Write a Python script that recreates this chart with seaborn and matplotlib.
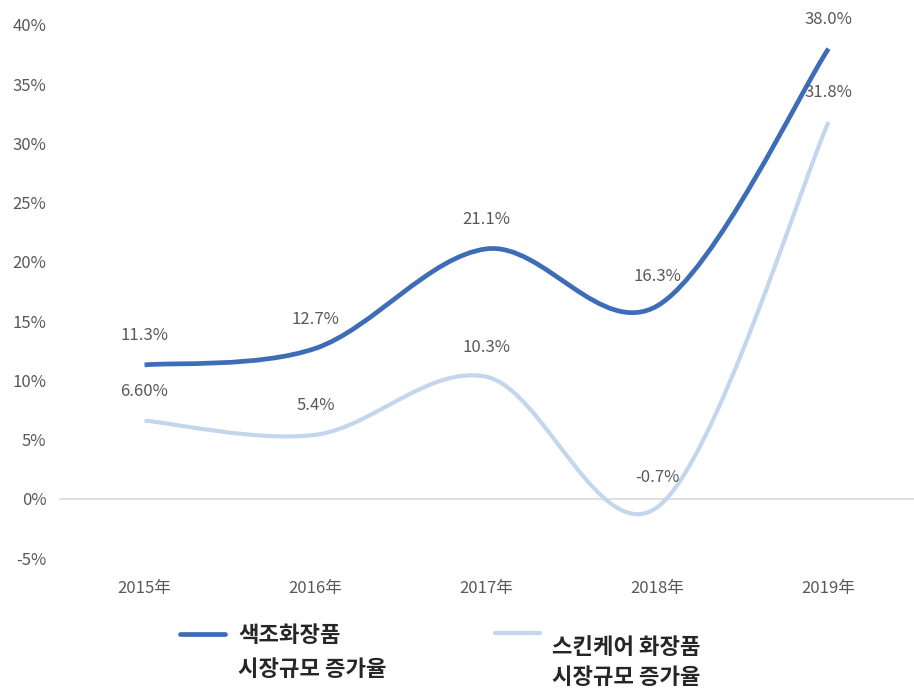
import numpy as np
import pandas as pd
import matplotlib
matplotlib.use("Agg")
import matplotlib.pyplot as plt
import seaborn as sns
from matplotlib.path import Path
from matplotlib.patches import PathPatch
from matplotlib.lines import Line2D

years = ["2015年", "2016年", "2017年", "2018年", "2019年"]
color_growth = [11.3, 12.7, 21.1, 16.3, 38.0]
skin_growth = [6.6, 5.4, 10.3, -0.7, 31.8]
color_labels = ["11.3%", "12.7%", "21.1%", "16.3%", "38.0%"]
skin_labels = ["6.60%", "5.4%", "10.3%", "-0.7%", "31.8%"]
series_names = [["색조화장품", "시장규모 증가율"], ["스킨케어 화장품", "시장규모 증가율"]]

sns.set_theme(style="white")
plt.rcParams['font.family'] = ['Noto Sans CJK KR', 'DejaVu Sans']

df = pd.DataFrame({"year": years, "color": color_growth, "skin": skin_growth})
df["pos"] = np.arange(len(df))

W, H = 914, 690
fig = plt.figure(figsize=(W / 100, H / 100), dpi=100)
ax = fig.add_axes([0.0646, 0.1913, 0.9354, 0.7725])


def smooth_path(xs, ys):
    # excel-like smoothed line: catmull-rom turned into cubic bezier pieces
    pts = np.column_stack([xs, ys]).astype(float)
    n = len(pts)
    verts = [pts[0]]
    codes = [Path.MOVETO]
    for i in range(n - 1):
        p0 = pts[max(i - 1, 0)]
        p1 = pts[i]
        p2 = pts[i + 1]
        p3 = pts[min(i + 2, n - 1)]
        verts += [p1 + (p2 - p0) / 6, p2 - (p3 - p1) / 6, p2]
        codes += [Path.CURVE4] * 3
    return Path(verts, codes)


blue = "#3e6db8"
light = "#c3d6ee"

ax.axhline(0, color="#d9d9d9", lw=1.2, zorder=1)
ax.add_patch(PathPatch(smooth_path(df["pos"], df["skin"]), fc="none", ec=light, lw=3.0, zorder=2))
ax.add_patch(PathPatch(smooth_path(df["pos"], df["color"]), fc="none", ec=blue, lw=3.4, zorder=3))

for x, y, t in zip(df["pos"], df["color"], color_labels):
    ax.annotate(t, (x, y), xytext=(0, 21), textcoords="offset points",
                ha="center", va="center", fontsize=12, color="#595959")
for x, y, t in zip(df["pos"], df["skin"], skin_labels):
    ax.annotate(t, (x, y), xytext=(0, 21), textcoords="offset points",
                ha="center", va="center", fontsize=12, color="#595959")

ax.set_xlim(-0.5, 4.5)
ax.set_ylim(-5, 40)
ax.set_xticks(df["pos"])
ax.set_xticklabels(years)
ax.set_yticks(np.arange(-5, 41, 5))
ax.set_yticklabels([f"{v}%" for v in range(-5, 41, 5)])
ax.tick_params(axis="both", length=0, labelsize=12, labelcolor="#595959")
ax.tick_params(axis="x", pad=16)
ax.tick_params(axis="y", pad=9)
sns.despine(ax=ax, left=True, bottom=True)

# legend drawn by hand: handle sits level with the first text line
legend_spots = [(180, 225, 634, 238, 636, 670), (495, 540, 633, 552, 647, 678)]
for (x0, x1, hy, tx, ty1, ty2), c, lw, lines in zip(legend_spots, [blue, light], [3.4, 3.0], series_names):
    fig.add_artist(Line2D([x0 / W, x1 / W], [1 - hy / H, 1 - hy / H], color=c, lw=lw,
                          transform=fig.transFigure))
    for ty, line in zip([ty1, ty2], lines):
        fig.text(tx / W, 1 - ty / H, line, ha="left", va="center", fontsize=16,
                 fontweight="bold", color="#262626", transform=fig.transFigure)

fig.savefig("out.png", dpi=100)
